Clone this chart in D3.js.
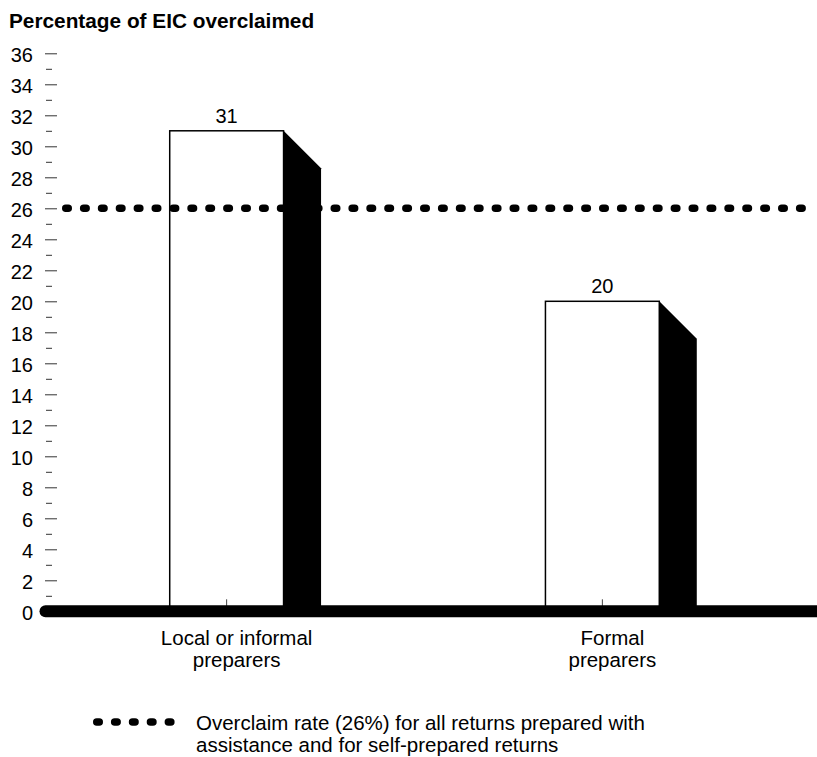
<!DOCTYPE html>
<html>
<head>
<meta charset="utf-8">
<script src="https://cdn.jsdelivr.net/npm/d3@7"></script>
<style>
  html, body { margin: 0; padding: 0; background: #fff; }
  svg { display: block; font-family: "Liberation Sans", Arial, Helvetica, sans-serif; }
</style>
</head>
<body>
<svg id="chart" width="817" height="757"></svg>
<script>
// Chart data
const titleText = "Percentage of EIC overclaimed";
const categories = [["Local or informal", "preparers"], ["Formal", "preparers"]];
const values = [31, 20];
const overallRate = 26;
const majorTicks = d3.range(0, 37, 2);
const minorTicks = d3.range(1, 36, 2);
const legendLines = ["Overclaim rate (26%) for all returns prepared with",
                     "assistance and for self-prepared returns"];

const svg = d3.select("#chart");
const W = 817;
const tickFont = 20, textFont = 20.5, lineGap = 22;
const depth = 37.5;          // offset of the drop shadow on each bar

const y = d3.scaleLinear().domain([0, 36]).range([611.3, 53.3]);
const x = d3.scaleBand()
  .domain(d3.range(values.length))
  .range([57, 772])
  .paddingInner(0.697)
  .paddingOuter(0.3);

// Title
svg.append("text")
  .attr("x", 9).attr("y", 28)
  .attr("font-size", 20.8).attr("font-weight", "bold")
  .attr("fill", "#000")
  .text(titleText);

// Y axis: labelled ticks on even values, short ticks on odd values
const yAxisMajor = d3.axisLeft(y).tickValues(majorTicks).tickSize(12).tickPadding(12)
  .tickFormat(d3.format("d"));
const gMajor = svg.append("g").attr("transform", "translate(57,0)").call(yAxisMajor);
gMajor.select(".domain").remove();
gMajor.selectAll(".tick line").attr("stroke", "#333").attr("stroke-width", 1);
gMajor.selectAll(".tick text")
  .attr("font-size", tickFont).attr("font-family", null)
  .attr("fill", "#000").attr("dy", "0.42em");
gMajor.selectAll(".tick").filter(d => d === 0).select("line").remove();

const yAxisMinor = d3.axisLeft(y).tickValues(minorTicks).tickSize(6).tickFormat("");
const gMinor = svg.append("g").attr("transform", "translate(52,0)").call(yAxisMinor);
gMinor.select(".domain").remove();
gMinor.selectAll(".tick line").attr("stroke", "#333").attr("stroke-width", 1);

// Bars with a black drop shadow on the right side
const bars = svg.append("g").selectAll("g").data(values).join("g");
bars.append("path")
  .attr("fill", "#000")
  .attr("d", (d, i) => {
    const r = x(i) + x.bandwidth();
    const t = y(d), b = y(0);
    return `M${r},${t}L${r + depth},${t + depth}L${r + depth},${b}L${r},${b}Z`;
  });
bars.append("rect")
  .attr("x", (d, i) => x(i))
  .attr("y", d => y(d))
  .attr("width", x.bandwidth())
  .attr("height", d => y(0) - y(d))
  .attr("fill", "#fff")
  .attr("stroke", "#000")
  .attr("stroke-width", 1.5);
bars.append("text")
  .attr("x", (d, i) => x(i) + x.bandwidth() / 2)
  .attr("y", d => y(d) - 8)
  .attr("text-anchor", "middle")
  .attr("font-size", tickFont)
  .attr("fill", "#000")
  .text(d => d);

// Category ticks on the baseline
svg.append("g").selectAll("line").data(values).join("line")
  .attr("x1", (d, i) => x(i) + x.bandwidth() / 2)
  .attr("x2", (d, i) => x(i) + x.bandwidth() / 2)
  .attr("y1", y(0) - 12).attr("y2", y(0))
  .attr("stroke", "#444").attr("stroke-width", 1);

// Thick baseline
svg.append("line")
  .attr("x1", 45.5).attr("x2", W + 10)
  .attr("y1", y(0)).attr("y2", y(0))
  .attr("stroke", "#000").attr("stroke-width", 12)
  .attr("stroke-linecap", "round");

// Category labels: two centred lines under each bar
categories.forEach((lines, i) => {
  const cx = x(i) + x.bandwidth() / 2 + 10;
  const t = svg.append("text")
    .attr("font-size", textFont).attr("fill", "#000")
    .attr("text-anchor", "middle");
  lines.forEach((s, k) => {
    t.append("tspan").attr("x", cx).attr("y", 645 + k * lineGap).text(s);
  });
});

// Overall overclaim rate reference line (dotted)
const dotStep = 17.9, dotLen = 2.5;
svg.append("line")
  .attr("x1", 67 - dotLen / 2).attr("x2", 801 + dotLen / 2)
  .attr("y1", y(overallRate)).attr("y2", y(overallRate))
  .attr("stroke", "#000").attr("stroke-width", 7.5)
  .attr("stroke-linecap", "round")
  .attr("stroke-dasharray", `${dotLen},${dotStep - dotLen}`);

// Legend
const legY = 722;
svg.append("line")
  .attr("x1", 98 - dotLen / 2).attr("x2", 170 + dotLen / 2)
  .attr("y1", legY).attr("y2", legY)
  .attr("stroke", "#000").attr("stroke-width", 7.5)
  .attr("stroke-linecap", "round")
  .attr("stroke-dasharray", `${dotLen},${dotStep - dotLen}`);
legendLines.forEach((s, k) => {
  svg.append("text")
    .attr("font-size", textFont).attr("fill", "#000")
    .attr("x", 196).attr("y", 729.5 + k * lineGap)
    .text(s);
});
</script>
</body>
</html>
